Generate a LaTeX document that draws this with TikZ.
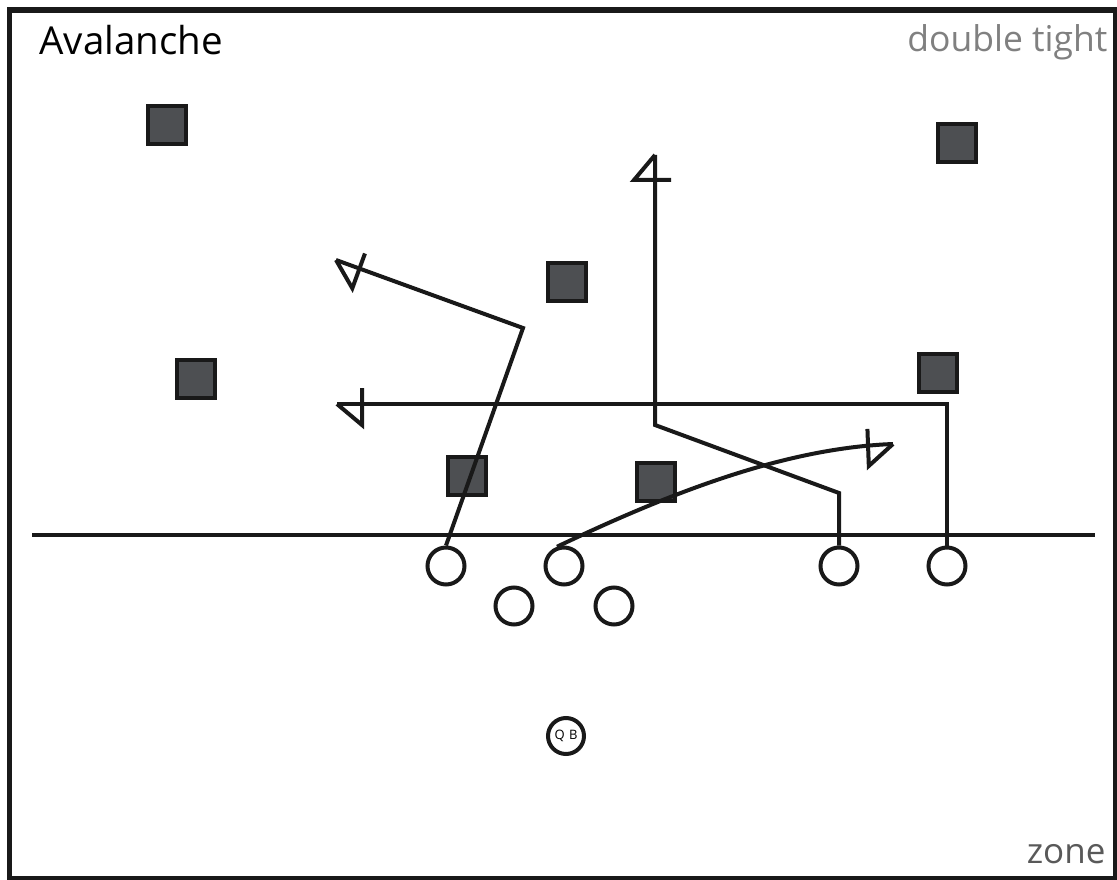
\documentclass[tikz,border=0pt]{standalone}
\usepackage{fontspec}
\setmainfont{Open Sans}
\usetikzlibrary{calc}
\definecolor{defgray}{HTML}{4D4F52}
\newcommand\routetip[3]{%
  \draw[route] ($(#2)!25pt!(#1)!-16pt!#3:(#2)$)--($(#2)!25pt!(#1)!21pt!#3:(#2)$)--(#2);}

\begin{document}
\begin{tikzpicture}[x=1pt,y=-1pt,
  defender/.style={draw=black!90,line width=3.5pt,fill=defgray,minimum size=38pt,inner sep=0pt},
  player/.style={draw=black!90,line width=4pt,circle,minimum size=37pt,inner sep=0pt},
  route/.style={black!90,line width=4pt,line join=miter}]
\useasboundingbox (0,0) rectangle (1117,880);
\draw[line width=5.5pt,black!90] (9.5,10) rectangle (1115.5,878.5);
\node[anchor=base west,font=\fontsize{38.5}{39}\selectfont] (title) at (36,55) {Avalanche};
\node[anchor=base east,font=\fontsize{35.5}{36}\selectfont,text=black!50] (form) at (1111,52) {double tight};
\node[anchor=base east,font=\fontsize{35}{36}\selectfont,text=black!65] (cover) at (1109,863) {zone};
 \draw[line width=4.5pt,black!90] (32,535)--(1095,535);
\node[defender] (d1) at (167,125) {};
\node[defender] (d2) at (957,143) {};
\node[defender] (d3) at (567,282) {};
\node[defender] (d4) at (196,379) {};
\node[defender] (d5) at (938,373) {};
\node[defender] (d6) at (467,476) {};
\node[defender] (d7) at (656,482) {};
\node[player] (lt) at (446,566) {};
\node[player] (lg) at (514,606) {};
\node[player] (c) at (564,566) {};
\node[player] (rg) at (614,606) {};
\node[player] (te) at (839,566) {};
\node[player] (wr) at (947,566) {};
\node[player,minimum size=36pt,font=\fontsize{13}{13}\selectfont] (qb) at (566,736) {Q\,\,B};
\coordinate (t1) at (336,260);
\coordinate (t2) at (337,404);
\coordinate (t3) at (655,155);
\coordinate (t4) at (893,444);
 \draw[route] (lt.north)--(523,328)--(t1);
 \routetip{523,328}{t1}{90}
 \draw[route] (wr.north)--(947,404)--(t2);
 \routetip{947,404}{t2}{90}
 \draw[route] (te.north)--(839,493)--(655,425)--(t3);
 \routetip{655,425}{t3}{90}
 \draw[route] (c.110) .. controls (680,488) and (790,448) .. (t4);
 \routetip{840,446}{t4}{-90}
\end{tikzpicture}
\end{document}
